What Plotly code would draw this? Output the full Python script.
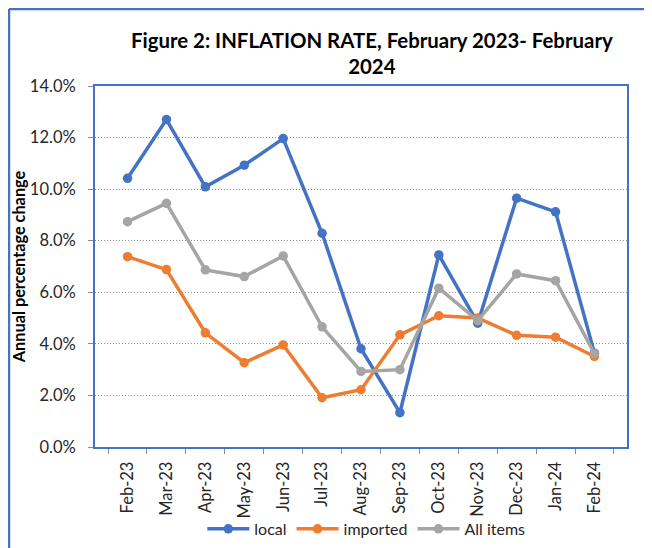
import plotly.graph_objects as go

months = ["Feb-23", "Mar-23", "Apr-23", "May-23", "Jun-23", "Jul-23", "Aug-23",
          "Sep-23", "Oct-23", "Nov-23", "Dec-23", "Jan-24", "Feb-24"]
local = [10.42, 12.70, 10.09, 10.93, 11.96, 8.29, 3.81, 1.33, 7.45, 4.80, 9.65, 9.12, 3.64]
imported = [7.38, 6.88, 4.43, 3.27, 3.96, 1.91, 2.22, 4.35, 5.09, 5.00, 4.33, 4.26, 3.51]
all_items = [8.74, 9.45, 6.87, 6.61, 7.41, 4.66, 2.93, 3.00, 6.16, 4.90, 6.71, 6.45, 3.62]

series = [("local", local, "#4472C4"), ("imported", imported, "#ED7D31"), ("All items", all_items, "#A5A5A5")]

FONT = "Lato, 'Liberation Sans', sans-serif"

fig = go.Figure()
for name, vals, col in series:
    fig.add_trace(go.Scatter(
        x=months, y=[v / 100 for v in vals], name=name, mode="lines+markers",
        line=dict(color=col, width=3.5), marker=dict(color=col, size=9.5),
    ))

fig.update_layout(
    width=644, height=540,
    margin=dict(l=87, r=25, t=78, b=101, autoexpand=False),
    paper_bgcolor="white", plot_bgcolor="white",
    font=dict(family=FONT, size=16, color="#262626"),
    title=dict(
        text="<b>Figure 2: INFLATION RATE, February 2023- February<br>2024</b>",
        x=0.565, xanchor="center", xref="container", y=0.926, yanchor="top", yref="container",
        font=dict(size=20.4, color="black", family=FONT),
    ),
    showlegend=True,
    legend=dict(orientation="h", x=0.51, xanchor="center", y=-0.227, yanchor="middle",
                font=dict(size=16, color="#262626"), itemwidth=42,
                bgcolor="rgba(0,0,0,0)"),
    xaxis=dict(
        type="category", tickangle=-90, tickson="boundaries",
        ticks="outside", ticklen=5, tickcolor="#8c8c8c", ticklabelstandoff=6,
        showline=True, mirror=True, linecolor="#4472C4", linewidth=2,
        showgrid=False, tickfont=dict(size=16.5, color="#262626"), automargin=False,
    ),
    yaxis=dict(
        range=[0, 0.14], dtick=0.02, tickformat=".1%",
        ticks="outside", ticklen=5, tickcolor="#8c8c8c", ticklabelstandoff=9,
        showline=True, mirror=True, linecolor="#4472C4", linewidth=2,
        showgrid=True, gridcolor="#8f8f8f", griddash="1px,2px", gridwidth=1,
        zeroline=False, tickfont=dict(size=16.5, color="#262626"), automargin=False,
        title=dict(text="<b>Annual percentage change</b>", font=dict(size=16.3, color="black"), standoff=0),
    ),
    shapes=[
        dict(type="line", xref="paper", yref="paper", x0=-0.1617, x1=1.06, y0=1.2133, y1=1.2133,
             line=dict(color="#4472C4", width=2.5), layer="below"),
        dict(type="line", xref="paper", yref="paper", x0=-0.1617, x1=-0.1617, y0=1.2133, y1=-0.29,
             line=dict(color="#4472C4", width=2.5), layer="below"),
    ],
)

fig.write_html("out.html")
